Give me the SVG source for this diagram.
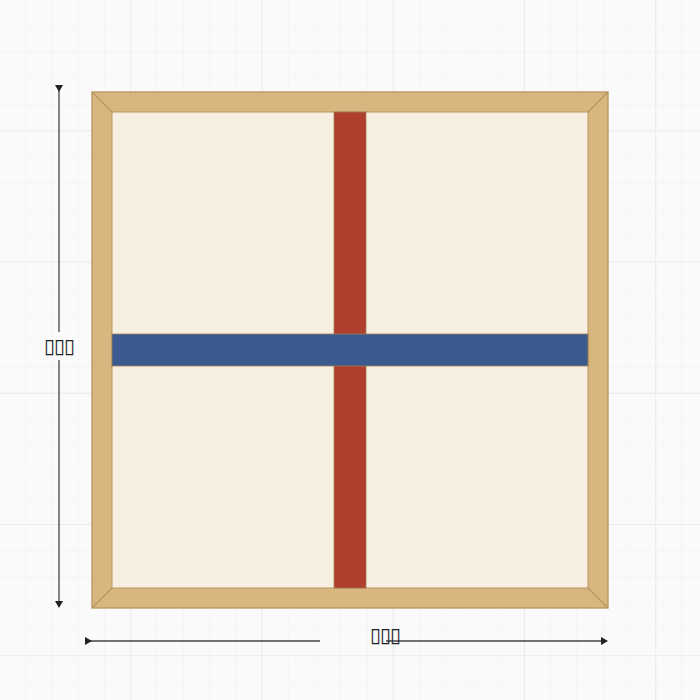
<svg xmlns="http://www.w3.org/2000/svg" width="700" height="700" viewBox="0 0 700 700">
<style>
.frame{fill:#d8b680;stroke:#b8955e;stroke-width:1.3}
.miter{stroke:#b8955e;stroke-width:1.2;fill:none}
.panel{fill:#f8efe3;stroke:#b8955e;stroke-width:1}
.red{fill:#b03e2e;stroke:#a08050;stroke-width:0.8}
.blue{fill:#3b5a8f;stroke:#a08050;stroke-width:0.8}
.dim{stroke:#444;stroke-width:1.3;fill:none}
.head{fill:#222}
.lbl{font-family:"DejaVu Sans",sans-serif;font-size:20px;fill:#222;text-anchor:middle;letter-spacing:-1px}
</style>
<defs>
<pattern id="minor" width="26.25" height="26.25" patternUnits="userSpaceOnUse">
<path d="M26.25 0V26.25H0" fill="none" stroke="#efefef" stroke-width="1"/>
</pattern>
<pattern id="major" width="131.25" height="131.25" patternUnits="userSpaceOnUse">
<path d="M131.25 0V131.25H0" fill="none" stroke="#e2e2e2" stroke-width="1"/>
</pattern>
</defs>
<rect width="700" height="700" fill="#fafafa"/>
<rect width="700" height="700" fill="url(#minor)"/>
<rect width="700" height="700" fill="url(#major)"/>
<g id="frame">
<rect class="frame" x="92" y="92" width="516" height="516"/>
<path class="miter" d="M92 92L112 112M608 92L588 112M92 608L112 588M608 608L588 588"/>
<rect class="panel" x="112" y="112" width="476" height="476"/>
</g>
<g id="vertical-bar">
<rect class="red" x="334" y="112" width="32" height="476"/>
</g>
<g id="horizontal-bar">
<rect class="blue" x="112" y="334" width="476" height="32"/>
</g>
<g id="connectors">
<path class="dim" d="M59 88L59 332"/>
<path class="dim" d="M59 360L59 602"/>
<path class="head" d="M55 85L63 85L59 92Z"/>
<path class="head" d="M55 601L63 601L59 608Z"/>
<path class="dim" d="M88 641L320 641"/>
<path class="dim" d="M386 641L602 641"/>
<path class="head" d="M85 637L85 645L92 641Z"/>
<path class="head" d="M601 637L601 645L608 641Z"/>
</g>
<g id="height-label">
<text class="lbl" x="59" y="353">▯▯▯</text>
</g>
<g id="width-label">
<text class="lbl" x="385" y="642">▯▯▯</text>
</g>
</svg>
